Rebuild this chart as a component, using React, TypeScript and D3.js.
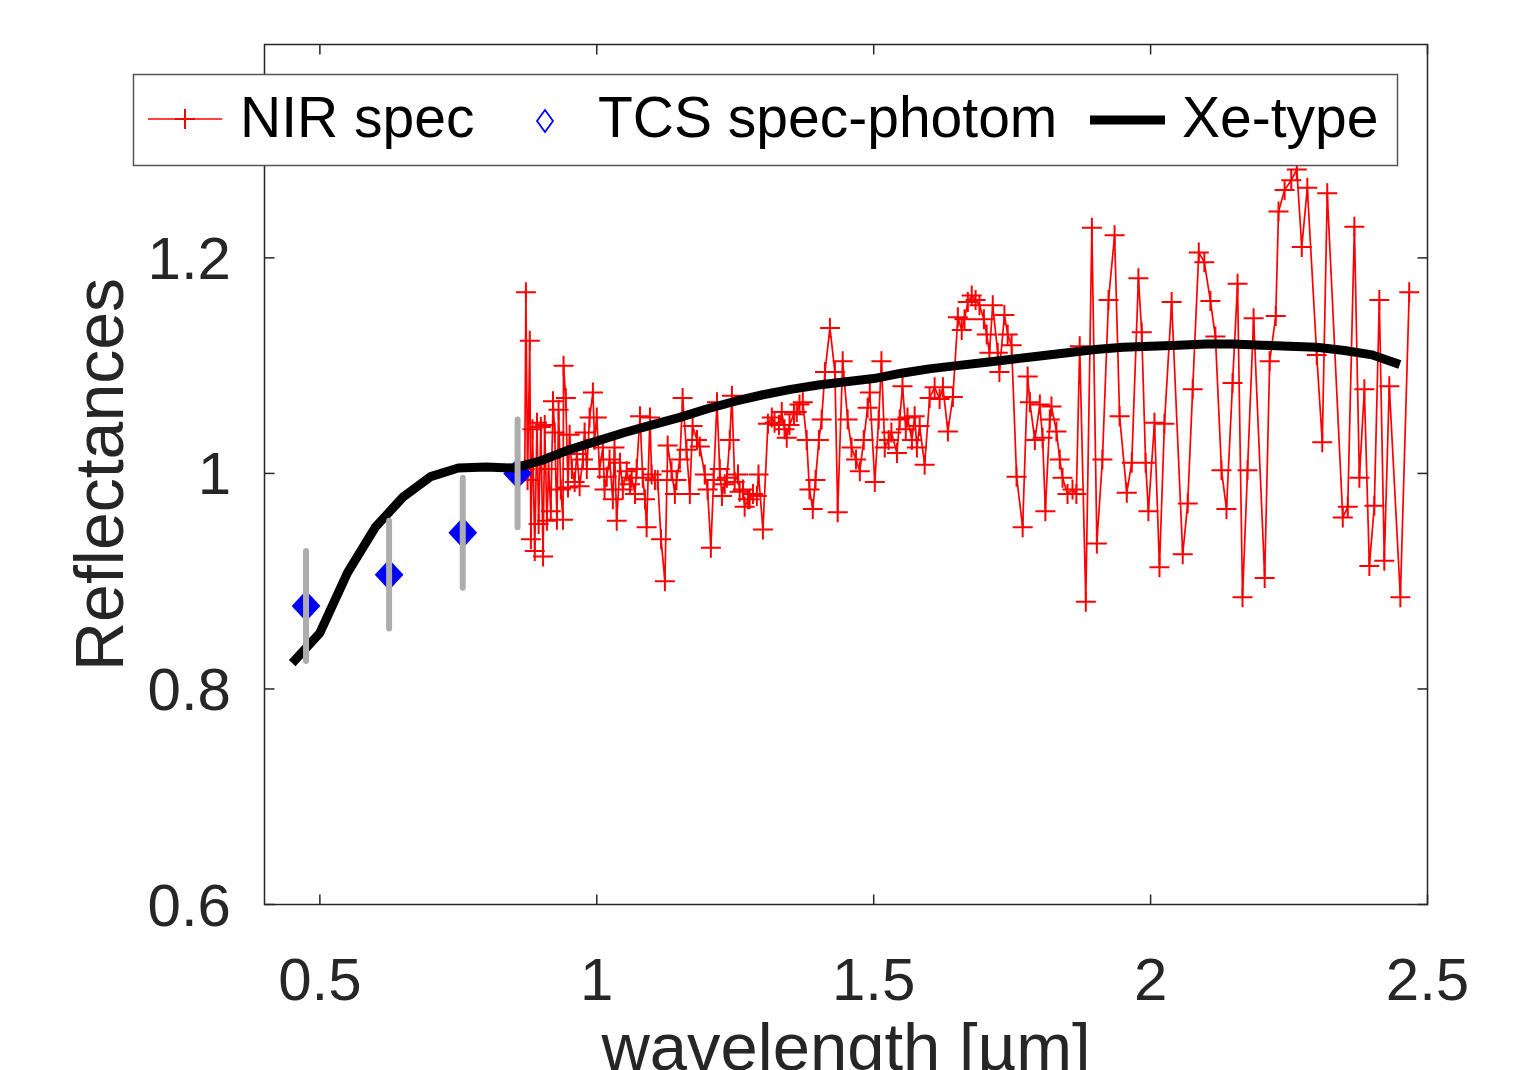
import * as d3 from 'd3';

// NIR spectrum (wavelength in um, reflectance)
const nirWavelength = [
  0.870, 0.872, 0.875, 0.879, 0.881, 0.884, 0.888, 0.892, 0.895, 0.899,
  0.903, 0.906, 0.910, 0.913, 0.917, 0.921, 0.924, 0.928, 0.931, 0.935,
  0.939, 0.940, 0.944, 0.948, 0.951, 0.955, 0.960, 0.964, 0.969, 0.975,
  0.978, 0.982, 0.987, 0.993, 0.996, 1.000, 1.005, 1.011, 1.014, 1.018,
  1.023, 1.029, 1.032, 1.036, 1.042, 1.047, 1.054, 1.060, 1.063, 1.069,
  1.072, 1.078, 1.083, 1.087, 1.090, 1.096, 1.099, 1.105, 1.110, 1.116,
  1.123, 1.128, 1.135, 1.141, 1.144, 1.150, 1.155, 1.162, 1.168, 1.173,
  1.181, 1.186, 1.195, 1.200, 1.206, 1.211, 1.217, 1.222, 1.226, 1.231,
  1.235, 1.240, 1.244, 1.249, 1.255, 1.258, 1.264, 1.267, 1.273, 1.276,
  1.282, 1.289, 1.292, 1.300, 1.309, 1.316, 1.321, 1.329, 1.334, 1.339,
  1.343, 1.348, 1.356, 1.361, 1.366, 1.372, 1.379, 1.384, 1.390, 1.395,
  1.401, 1.406, 1.412, 1.421, 1.430, 1.435, 1.444, 1.453, 1.460, 1.468,
  1.475, 1.482, 1.489, 1.493, 1.502, 1.509, 1.514, 1.520, 1.527, 1.532,
  1.542, 1.547, 1.552, 1.558, 1.561, 1.569, 1.574, 1.578, 1.583, 1.592,
  1.601, 1.610, 1.619, 1.625, 1.634, 1.643, 1.652, 1.659, 1.664, 1.670,
  1.677, 1.684, 1.691, 1.699, 1.704, 1.709, 1.715, 1.724, 1.727, 1.736,
  1.742, 1.749, 1.758, 1.769, 1.778, 1.782, 1.791, 1.800, 1.805, 1.810,
  1.818, 1.821, 1.830, 1.836, 1.841, 1.850, 1.859, 1.866, 1.872, 1.883,
  1.894, 1.903, 1.913, 1.924, 1.935, 1.944, 1.957, 1.966, 1.978, 1.984,
  1.991, 1.996, 2.007, 2.016, 2.025, 2.038, 2.058, 2.067, 2.076, 2.087,
  2.097, 2.108, 2.117, 2.128, 2.137, 2.148, 2.157, 2.166, 2.175, 2.186,
  2.206, 2.215, 2.226, 2.231, 2.242, 2.254, 2.264, 2.273, 2.283, 2.300,
  2.310, 2.319, 2.347, 2.356, 2.368, 2.377, 2.386, 2.395, 2.404, 2.413,
  2.422, 2.431, 2.451, 2.467,
];
const nirReflectance = [
  1.004, 1.168, 0.994, 1.123, 0.939, 1.041, 0.928, 1.047, 0.953, 1.043,
  0.923, 1.045, 0.956, 1.004, 0.965, 1.067, 1.038, 0.957, 1.059, 0.985,
  0.957, 1.100, 1.070, 0.987, 1.036, 1.004, 0.992, 1.018, 0.988, 1.013,
  1.038, 1.004, 1.052, 1.075, 1.031, 1.052, 1.004, 1.024, 0.985, 0.997,
  1.013, 0.976, 1.024, 0.956, 1.010, 0.985, 1.002, 0.990, 0.996, 0.981,
  1.004, 1.053, 0.996, 0.976, 0.950, 1.052, 0.999, 0.994, 0.994, 0.939,
  0.900, 1.026, 1.002, 0.981, 0.994, 1.013, 1.070, 1.022, 0.981, 1.044,
  1.031, 1.025, 0.999, 0.985, 0.931, 0.994, 1.066, 1.004, 0.979, 0.990,
  0.996, 1.031, 1.072, 0.992, 0.999, 0.983, 0.985, 0.969, 0.976, 0.976,
  0.981, 0.979, 0.999, 0.948, 1.046, 1.052, 1.047, 1.045, 1.057, 1.041,
  1.033, 1.045, 1.055, 1.057, 1.064, 1.066, 1.031, 0.985, 0.967, 0.994,
  1.031, 1.050, 1.094, 1.135, 1.094, 0.964, 1.104, 1.050, 1.024, 1.013,
  1.002, 1.031, 1.061, 1.075, 0.992, 1.050, 1.104, 1.024, 1.031, 1.038,
  1.019, 1.050, 1.081, 1.041, 1.052, 1.031, 1.053, 1.024, 1.044, 1.008,
  1.070, 1.080, 1.069, 1.080, 1.039, 1.071, 1.145, 1.133, 1.143, 1.159,
  1.165, 1.161, 1.156, 1.143, 1.129, 1.112, 1.156, 1.112, 1.094, 1.147,
  1.129, 1.119, 0.997, 0.950, 1.090, 1.066, 1.031, 1.064, 1.033, 0.965,
  1.050, 1.062, 1.039, 1.013, 0.996, 0.981, 0.985, 0.981, 1.118, 0.881,
  1.228, 0.935, 1.013, 1.161, 1.221, 1.053, 0.982, 1.010, 1.181, 1.131,
  1.010, 0.965, 1.047, 0.913, 1.046, 1.159, 0.925, 0.972, 1.078, 1.205,
  1.196, 1.160, 1.127, 1.003, 0.967, 1.084, 1.176, 0.885, 1.003, 1.144,
  0.903, 1.104, 1.146, 1.243, 1.263, 1.272, 1.282, 1.210, 1.265, 1.110,
  1.029, 1.260, 0.959, 0.969, 1.229, 0.996, 1.078, 0.914, 0.970, 1.161,
  0.919, 1.081, 0.885, 1.168,
];

// TCS spectro-photometry points with their error bars
const tcsWavelength = [0.475, 0.625, 0.758, 0.857];
const tcsReflectance = [0.877, 0.906, 0.945, 1.0];
const tcsError = [0.051, 0.05, 0.051, 0.05];

// Xe-type template
const xeWavelength = [
  0.45, 0.5, 0.55, 0.6, 0.65, 0.7, 0.75, 0.8, 0.85, 0.9, 0.95, 1.0, 1.05, 1.1,
  1.15, 1.2, 1.25, 1.3, 1.35, 1.4, 1.45, 1.5, 1.55, 1.6, 1.65, 1.7, 1.75, 1.8,
  1.85, 1.9, 1.95, 2.0, 2.05, 2.1, 2.15, 2.2, 2.25, 2.3, 2.35, 2.4, 2.45,
];
const xeReflectance = [
  0.824, 0.852, 0.908, 0.95, 0.978, 0.997, 1.005, 1.006, 1.005, 1.012, 1.022,
  1.03, 1.038, 1.045, 1.052, 1.06, 1.067, 1.073, 1.078, 1.082, 1.085, 1.088,
  1.093, 1.097, 1.1, 1.103, 1.106, 1.109, 1.112, 1.115, 1.117, 1.118, 1.119,
  1.12, 1.12, 1.119, 1.118, 1.117, 1.114, 1.11, 1.101,
];

const xTicks = [0.5, 1, 1.5, 2, 2.5];
const yTicks = [0.6, 0.8, 1, 1.2];
const xTickLabels = ['0.5', '1', '1.5', '2', '2.5'];
const yTickLabels = ['0.6', '0.8', '1', '1.2'];

const W = 1521;
const H = 1070;
const FONT = '"Liberation Sans", Arial, Helvetica, sans-serif';
const INK = '#262626';

const cross = (cx: number, cy: number, r: number) =>
  `M${cx - r},${cy}h${2 * r}M${cx},${cy - r}v${2 * r}`;
const diamond = (cx: number, cy: number, rx: number, ry: number) =>
  `M${cx},${cy - ry}L${cx + rx},${cy}L${cx},${cy + ry}L${cx - rx},${cy}Z`;

export default function App() {
  const x = d3.scaleLinear().domain([0.4, 2.5]).range([264.5, 1427.5]);
  const y = d3.scaleLinear().domain([0.6, 1.398]).range([904.5, 44.5]);

  const [x0, x1] = x.range();
  const [y0, y1] = y.range(); // y0 bottom, y1 top

  const nir = nirWavelength.map((w, i) => [w, nirReflectance[i]] as [number, number]);
  const xe = xeWavelength.map((w, i) => [w, xeReflectance[i]] as [number, number]);

  const line = d3
    .line<[number, number]>()
    .x((d) => x(d[0]))
    .y((d) => y(d[1]));

  const tickLen = 10;

  return (
    <svg
      width={W}
      height={H}
      style={{ position: 'absolute', left: 0, top: 0, display: 'block', background: '#fff' }}
      fontFamily={FONT}
    >
      <rect x={0} y={0} width={W} height={H} fill="#fff" />

      {/* NIR spectrum */}
      <path d={line(nir) ?? ''} fill="none" stroke="#ff0000" strokeWidth={1.7} strokeLinejoin="round" />
      <path
        d={nir.map((d) => cross(x(d[0]), y(d[1]), 10)).join('')}
        fill="none"
        stroke="#ff0000"
        strokeWidth={2}
      />

      {/* TCS points */}
      {tcsWavelength.map((w, i) => (
        <path
          key={'tcs' + i}
          d={diamond(x(w), y(tcsReflectance[i]), 13, 14)}
          fill="#0000ff"
          stroke="#0000ff"
          strokeWidth={2}
        />
      ))}

      {/* Xe-type template */}
      <path
        d={line(xe) ?? ''}
        fill="none"
        stroke="#000"
        strokeWidth={9}
        strokeLinejoin="round"
      />

      {/* error bars */}
      {tcsWavelength.map((w, i) => (
        <line
          key={'err' + i}
          x1={x(w)}
          x2={x(w)}
          y1={y(tcsReflectance[i] - tcsError[i])}
          y2={y(tcsReflectance[i] + tcsError[i])}
          stroke="#adadad"
          strokeWidth={6}
          strokeLinecap="round"
        />
      ))}

      {/* axes box */}
      <rect
        x={x0}
        y={y1}
        width={x1 - x0}
        height={y0 - y1}
        fill="none"
        stroke={INK}
        strokeWidth={1.5}
      />
      {xTicks.map((t) => (
        <g key={'xt' + t}>
          <line x1={x(t)} x2={x(t)} y1={y0} y2={y0 - tickLen} stroke={INK} strokeWidth={1.5} />
          <line x1={x(t)} x2={x(t)} y1={y1} y2={y1 + tickLen} stroke={INK} strokeWidth={1.5} />
        </g>
      ))}
      {yTicks.map((t) => (
        <g key={'yt' + t}>
          <line x1={x0} x2={x0 + tickLen} y1={y(t)} y2={y(t)} stroke={INK} strokeWidth={1.5} />
          <line x1={x1} x2={x1 - tickLen} y1={y(t)} y2={y(t)} stroke={INK} strokeWidth={1.5} />
        </g>
      ))}

      {/* tick labels */}
      {xTicks.map((t, i) => (
        <text key={'xl' + t} x={x(t)} y={1000} textAnchor="middle" fontSize={60} fill={INK}>
          {xTickLabels[i]}
        </text>
      ))}
      {yTicks.map((t, i) => (
        <text key={'yl' + t} x={231} y={y(t) + 21} textAnchor="end" fontSize={60} fill={INK}>
          {yTickLabels[i]}
        </text>
      ))}

      {/* axis labels */}
      <text x={(x0 + x1) / 2} y={1070} textAnchor="middle" fontSize={67} fill={INK}>
        wavelength [µm]
      </text>
      <text
        transform={`translate(123,${(y0 + y1) / 2}) rotate(-90)`}
        textAnchor="middle"
        fontSize={68}
        fill={INK}
      >
        Reflectances
      </text>

      {/* legend */}
      <g>
        <rect x={133.5} y={74.5} width={1264} height={91} fill="#fff" stroke="#555" strokeWidth={1.5} />
        <line x1={148} x2={222} y1={119} y2={119} stroke="#ff0000" strokeWidth={1.7} />
        <path d={cross(185, 119, 10)} fill="none" stroke="#ff0000" strokeWidth={2} />
        <text x={240} y={137} fontSize={57} fill="#000">
          NIR spec
        </text>
        <path d={diamond(545, 121, 8, 11)} fill="none" stroke="#0000ff" strokeWidth={1.8} />
        <text x={598} y={137} fontSize={57} fill="#000">
          TCS spec-photom
        </text>
        <line x1={1090} x2={1165} y1={120} y2={120} stroke="#000" strokeWidth={9} />
        <text x={1182} y={137} fontSize={57} fill="#000">
          Xe-type
        </text>
      </g>
    </svg>
  );
}
